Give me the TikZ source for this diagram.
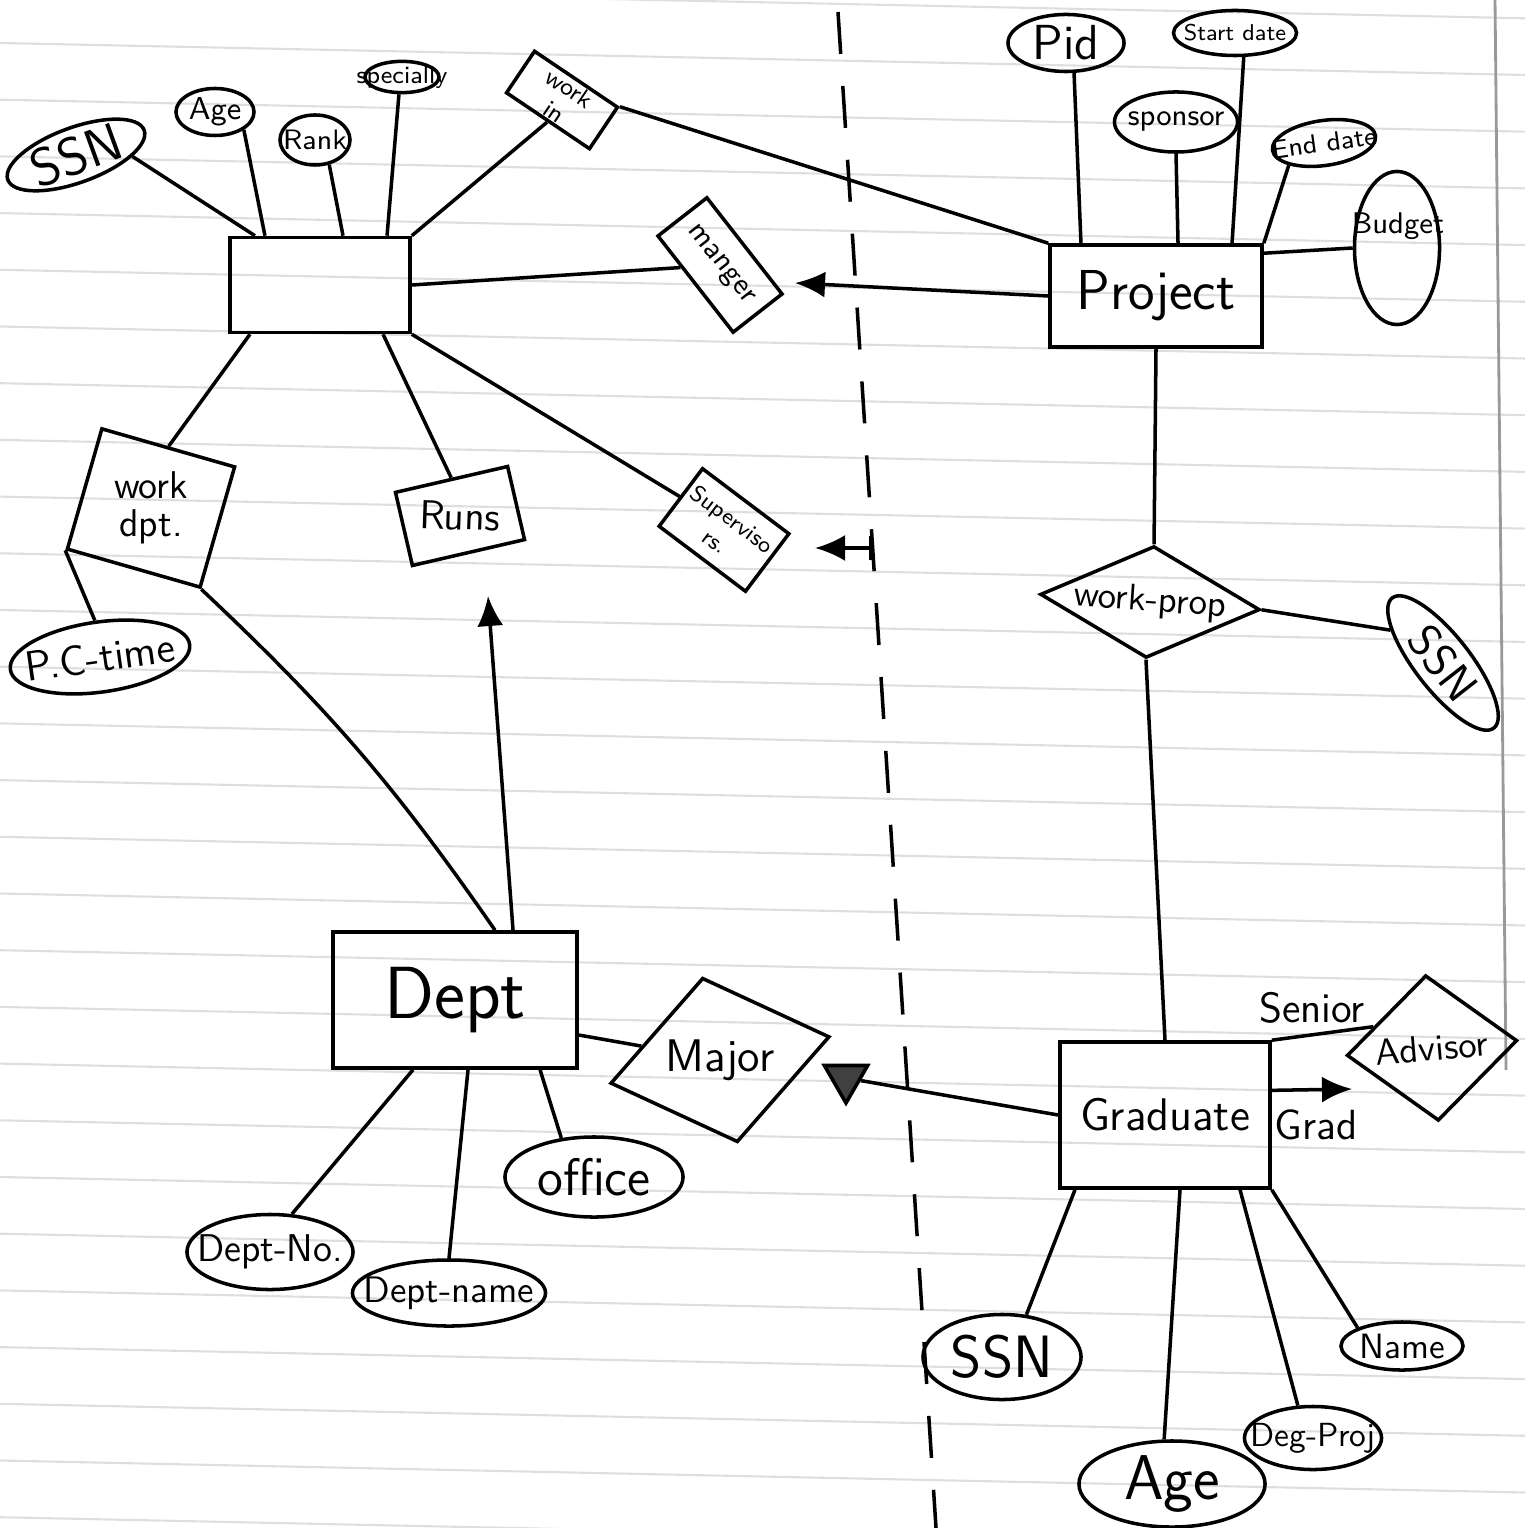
\documentclass[tikz,border=0pt]{standalone}
\usepackage{tikz}
\usetikzlibrary{arrows.meta}
\usetikzlibrary{shapes.geometric}
\renewcommand{\familydefault}{\sfdefault}
\newcommand{\fsz}[1]{\sffamily\fontsize{#1}{#1}\selectfont}
\newcommand{\zbox}[1]{\makebox[0pt]{#1}}

\begin{document}
\begin{tikzpicture}[x=0.01cm, y=-0.01cm, line width=1pt, font=\sffamily,
    entity/.style={draw, rectangle, inner sep=0pt},
    attr/.style={draw, ellipse, inner sep=0pt},
    relbox/.style={draw, rectangle, inner sep=0pt, align=center},
    reldiam/.style={draw, diamond, inner sep=0pt},
    paper/.style={black!13, line width=0.6pt},
    headarrow/.style={-{Latex[length=3mm,width=2.6mm]}}]

            \useasboundingbox (0,0) rectangle (1525,1528);

            % Paper
            \foreach \k in {-1,...,26} {
                \draw[paper] (0,{43+56.7*\k}) -- (1525,{75+56.7*\k});
            }
            \draw[black!40, line width=0.8pt] (1495,0) -- (1506,1070);

            % Nodes
            \node[entity, minimum width=1.8cm, minimum height=0.95cm] (emp) at (320,285) {};
            \node[attr, minimum width=1.45cm, minimum height=0.55cm, rotate=20, font=\fsz{15}] (essn) at (76,155) {\zbox{SSN}};
            \node[attr, minimum width=0.78cm, minimum height=0.47cm, font=\fsz{9}] (eage) at (215,112) {\zbox{Age}};
            \node[attr, minimum width=0.7cm, minimum height=0.5cm, font=\fsz{8}] (erank) at (315,140) {\zbox{Rank}};
            \node[attr, minimum width=0.74cm, minimum height=0.31cm, font=\fsz{7}] (espec) at (402,77) {\zbox{specially}};
            \node[relbox, minimum width=1.0cm, minimum height=0.5cm, rotate=-34, font=\fsz{7}] (workin) at (562,100) {work\\[1pt]in};
            \node[relbox, minimum width=1.22cm, minimum height=0.62cm, rotate=-52, font=\fsz{8.5}] (manger) at (720,265) {manger};
            \node[relbox, minimum width=1.38cm, minimum height=1.25cm, rotate=-16, font=\fsz{11}] (workdpt) at (151,508) {\rotatebox{16}{\shortstack{work\\dpt.}}};
            \node[attr, minimum width=1.81cm, minimum height=0.7cm, rotate=8, font=\fsz{12}] (pctime) at (100,657) {\zbox{P.C-time}};
            \node[relbox, minimum width=1.15cm, minimum height=0.75cm, rotate=13, font=\fsz{11.5}] (runs) at (460,516) {\rotatebox{-15}{Runs}};
            \node[relbox, minimum width=1.08cm, minimum height=0.72cm, rotate=-37, font=\fsz{6.5}] (superv) at (724,530) {Superviso\\[1.5pt]rs.};

            \node[entity, minimum width=2.44cm, minimum height=1.36cm, font=\fsz{21}] (dept) at (455,1000) {Dept};
            \node[reldiam, minimum width=2.24cm, minimum height=1.68cm, rotate=12, font=\fsz{13}] (major) at (720,1060) {\zbox{\rotatebox{-12}{Major}}};
            \node[attr, minimum width=1.66cm, minimum height=0.75cm, font=\fsz{11}] (deptno) at (270,1252) {\zbox{Dept-No.}};
            \node[attr, minimum width=1.93cm, minimum height=0.66cm, font=\fsz{10.5}] (deptname) at (449,1293) {\zbox{Dept-name}};
            \node[attr, minimum width=1.78cm, minimum height=0.8cm, font=\fsz{15}] (office) at (594,1177) {\zbox{office}};
            \node[regular polygon, regular polygon sides=3, shape border rotate=180, draw, fill=black!75, inner sep=0pt, minimum size=0.5cm] (majtri) at (846,1078) {};

            \node[entity, minimum width=2.12cm, minimum height=1.02cm, font=\fsz{16}] (proj) at (1156,296) {Project};
            \node[attr, minimum width=1.16cm, minimum height=0.57cm, font=\fsz{14}] (pid) at (1066,43) {\zbox{Pid}};
            \node[attr, minimum width=1.23cm, minimum height=0.45cm, font=\fsz{6.5}] (sdate) at (1235,33) {\zbox{Start date}};
            \node[attr, minimum width=1.23cm, minimum height=0.6cm, font=\fsz{8.5}] (spons) at (1176,122) {\zbox{sponsor}};
            \node[attr, minimum width=1.04cm, minimum height=0.45cm, rotate=8, font=\fsz{7.5}] (edate) at (1324,143) {\zbox{End date}};
            \node[attr, minimum width=0.85cm, minimum height=1.53cm] (budget) at (1397,248) {};
            \node[font=\fsz{8.5}] (budgettxt) at (1398,226) {Budget};
            \node[reldiam, minimum width=2.2cm, minimum height=1.12cm, rotate=-4, font=\fsz{10.5}] (wprop) at (1150,602) {\zbox{work-prop}};
            \node[attr, minimum width=1.65cm, minimum height=0.55cm, rotate=-52, font=\fsz{13}] (pssn) at (1443,663) {\zbox{SSN}};

            \node[entity, minimum width=2.1cm, minimum height=1.46cm, font=\fsz{13}] (grad) at (1165,1115) {Graduate};
            \node[reldiam, minimum width=1.71cm, minimum height=1.46cm, rotate=5, font=\fsz{10.5}] (advisor) at (1432,1048) {\zbox{Advisor}};
            \node[font=\fsz{12}] (senior) at (1312,1008) {Senior};
            \node[font=\fsz{12}] (gradlbl) at (1316,1125) {Grad};
            \node[attr, minimum width=1.58cm, minimum height=0.85cm, font=\fsz{17}] (gssn) at (1002,1357) {\zbox{SSN}};
            \node[attr, minimum width=1.86cm, minimum height=0.86cm, font=\fsz{18}] (gage) at (1172,1484) {\zbox{Age}};
            \node[attr, minimum width=1.37cm, minimum height=0.63cm, font=\fsz{9.5}] (gdeg) at (1313,1438) {\zbox{Deg-Proj}};
            \node[attr, minimum width=1.22cm, minimum height=0.48cm, font=\fsz{10}] (gname) at (1402,1346) {\zbox{Name}};

            % Free ends
            \coordinate (dashtop) at (838,12);
            \coordinate (dashbot) at (936,1528);
            \coordinate (mgrtip) at (795,283);
            \coordinate (suptick) at (872,548);
            \coordinate (suptip) at (815,548);
            \coordinate (runstip) at (488,596);
            \coordinate (gradtip) at (1352,1089);

            % Connections
            \draw (essn.south east) -- ([xshift=-0.65cm]emp.north);
            \draw (eage.south east) -- ([xshift=-0.55cm]emp.north);
            \draw (erank.-60) -- ([xshift=0.23cm]emp.north);
            \draw (espec.-100) -- ([xshift=0.67cm]emp.north);
            \draw (workin.south) -- (emp.north east);
            \draw (workin.north east) -- (proj.north west);
            \draw (emp.east) -- (manger);
            \draw[headarrow] (proj.west) -- (mgrtip);
            \draw ([xshift=-0.7cm]emp.south) -- (workdpt.north);
            \draw ([xshift=0.63cm]emp.south) -- (runs.north);
            \draw (emp.south east) -- (superv.west);
            \draw[{Bar[width=2.4mm]}-{Latex[length=3mm,width=2.6mm]}] (suptick) -- (suptip);
            \draw (workdpt.south west) -- (pctime.north);
            \draw (workdpt.south east) to[bend left=6] ([xshift=0.4cm]dept.north);
            \draw[headarrow] ([xshift=0.58cm]dept.north) -- (runstip);
            \draw ([yshift=-0.35cm]dept.east) -- (major);
            \draw (deptno.60) -- ([xshift=-0.42cm]dept.south);
            \draw (deptname.north) -- ([xshift=0.13cm]dept.south);
            \draw (office.130) -- ([xshift=0.85cm]dept.south);
            \draw (grad.west) -- (majtri);

            \draw (pid.-75) -- ([xshift=-0.75cm]proj.north);
            \draw (sdate.-70) -- ([xshift=0.76cm]proj.north);
            \draw (spons.south) -- ([xshift=0.22cm]proj.north);
            \draw (edate.south west) -- (proj.north east);
            \draw ([yshift=-0.1cm]proj.north east) -- (budget.west);
            \draw (proj.south) -- (wprop.north);
            \draw (wprop.east) -- (pssn.200);
            \draw (wprop.south) -- (grad.north);
            \draw (grad.north east) -- (advisor.155);
            \draw[headarrow] (grad.13) -- (gradtip);
            \draw (gssn.60) -- ([xshift=-0.9cm]grad.south);
            \draw (gage.100) -- ([xshift=0.15cm]grad.south);
            \draw (gdeg.115) -- ([xshift=0.75cm]grad.south);
            \draw (gname.north west) -- (grad.south east);

            % Divider
            \draw[dashed, dash pattern=on 0.42cm off 0.32cm] (dashtop) -- (dashbot);

\end{tikzpicture}
\end{document}
